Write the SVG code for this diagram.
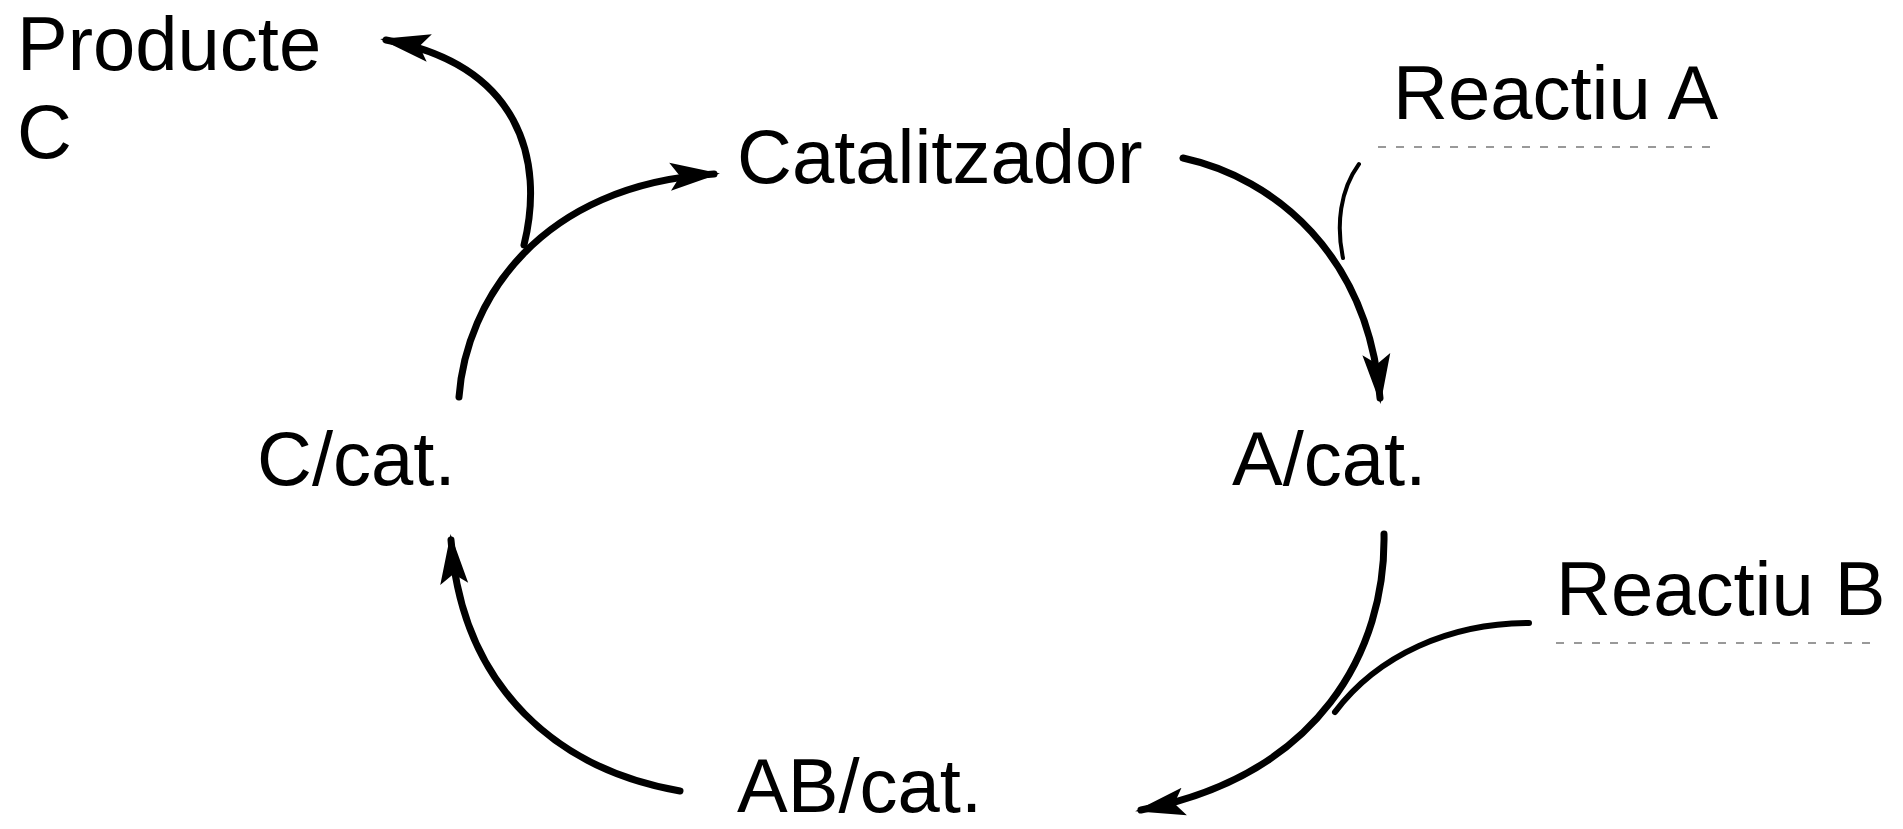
<svg xmlns="http://www.w3.org/2000/svg" width="1903" height="829" viewBox="0 0 1903 829">
<defs>
<style>
.t{font-family:"Liberation Sans",Arial,sans-serif;font-size:76px;fill:#000}
.c{fill:none;stroke:#000;stroke-width:7;stroke-linecap:round}
.thin{fill:none;stroke:#000;stroke-width:4;stroke-linecap:round}
.mid{fill:none;stroke:#000;stroke-width:6;stroke-linecap:round}
.d{stroke:#999;stroke-width:2;stroke-dasharray:8 10}
</style>
<marker id="ah" viewBox="0 0 50 30" refX="44" refY="15" markerWidth="50" markerHeight="30" markerUnits="userSpaceOnUse" orient="auto">
<path d="M0,1 L50,15 L0,29 L10,15 Z" fill="#000"/>
</marker>
</defs>
<rect width="1903" height="829" fill="#fff"/>
<g id="connectors">
<path class="c" d="M1183,158 C1275,178 1368,255 1380,398" marker-end="url(#ah)"/>
<path class="thin" d="M1359,164 C1340,190 1336,225 1343,258"/>
<path class="c" d="M1384,534 C1386,650 1320,775 1141,810" marker-end="url(#ah)"/>
<path class="mid" d="M1529,623 C1450,623 1378,655 1335,712"/>
<path class="c" d="M680,791 C560,770 462,690 451,540" marker-end="url(#ah)"/>
<path class="c" d="M459,397 C466,300 540,185 714,174" marker-end="url(#ah)"/>
<path class="c" d="M524,245 C545,160 520,65 386,40" marker-end="url(#ah)"/>
<line class="d" x1="1378" y1="147" x2="1714" y2="147"/>
<line class="d" x1="1556" y1="643" x2="1879" y2="643"/>
</g>
<g id="producte"><text class="t" x="17" y="70">Producte</text><text class="t" x="17" y="158">C</text></g>
<g id="catalitzador"><text class="t" x="737" y="183">Catalitzador</text></g>
<g id="reactiuA"><text class="t" x="1393" y="119">Reactiu A</text></g>
<g id="acat"><text class="t" x="1232" y="485">A/cat.</text></g>
<g id="reactiuB"><text class="t" x="1556" y="615">Reactiu B</text></g>
<g id="ccat"><text class="t" x="257" y="485">C/cat.</text></g>
<g id="abcat"><text class="t" x="737" y="812">AB/cat.</text></g>
</svg>
